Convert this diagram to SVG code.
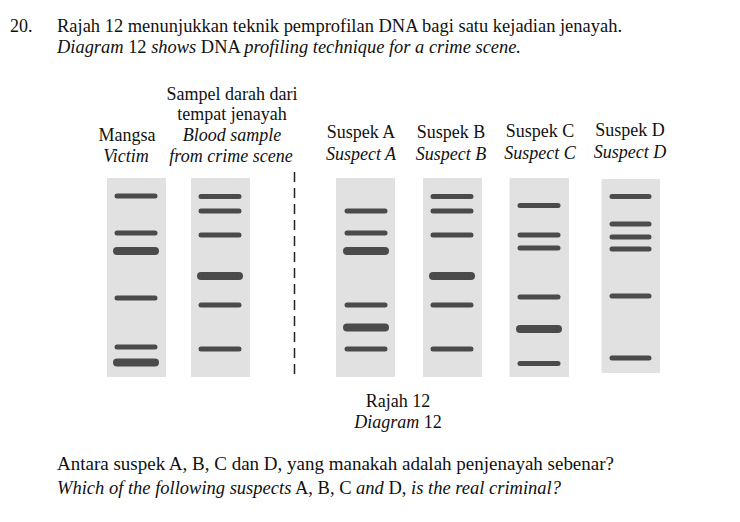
<svg xmlns="http://www.w3.org/2000/svg" width="740" height="522" viewBox="0 0 740 522">
<style>
text{font-family:"Liberation Serif","Times New Roman",serif;fill:#111;}
.t{font-size:18px;}
.h{font-size:18px;text-anchor:middle;}
.i{font-style:italic;}
.lane{fill:#e1e1e1;}
.b{stroke:#4b4b4b;stroke-width:5;stroke-linecap:round;}
.k{stroke:#4b4b4b;stroke-width:8;stroke-linecap:round;}
</style>
<rect width="740" height="522" fill="#fff"/>
<g id="question-top">
<text class="t" x="10" y="32">20.</text>
<text class="t" x="57" y="32" textLength="565" lengthAdjust="spacingAndGlyphs">Rajah 12 menunjukkan teknik pemprofilan DNA bagi satu kejadian jenayah.</text>
<text class="t" x="57" y="53" textLength="464" lengthAdjust="spacingAndGlyphs"><tspan class="i">Diagram</tspan> 12 <tspan class="i">shows</tspan> DNA <tspan class="i">profiling technique for a crime scene.</tspan></text>
</g>
<g id="labels">
<text class="h" x="232" y="100">Sampel darah dari</text>
<text class="h" x="232" y="120">tempat jenayah</text>
<text class="h i" x="232" y="141">Blood sample</text>
<text class="h i" x="231" y="162">from crime scene</text>
<text class="h" x="127" y="141">Mangsa</text>
<text class="h i" x="126" y="162">Victim</text>
<text class="h" x="361" y="138">Suspek A</text>
<text class="h i" x="361" y="160">Suspect A</text>
<text class="h" x="451" y="138">Suspek B</text>
<text class="h i" x="451" y="160">Suspect B</text>
<text class="h" x="540" y="137">Suspek C</text>
<text class="h i" x="540" y="159">Suspect C</text>
<text class="h" x="630" y="136">Suspek D</text>
<text class="h i" x="630" y="158">Suspect D</text>
</g>
<g id="lane-victim">
<rect class="lane" x="107" y="178" width="59" height="199"/>
<line class="b" x1="117" y1="196" x2="155" y2="196"/>
<line class="b" x1="117" y1="233" x2="155" y2="233"/>
<line class="k" x1="117" y1="251" x2="155" y2="251"/>
<line class="b" x1="117" y1="298" x2="155" y2="298"/>
<line class="b" x1="117" y1="347" x2="155" y2="347"/>
<line class="k" x1="117" y1="362.5" x2="155" y2="362.5"/>
</g>
<g id="lane-blood">
<rect class="lane" x="191" y="178" width="59" height="199"/>
<line class="b" x1="201" y1="196.5" x2="239" y2="196.5"/>
<line class="b" x1="201" y1="211" x2="239" y2="211"/>
<line class="b" x1="201" y1="235" x2="239" y2="235"/>
<line class="k" x1="201" y1="276" x2="239" y2="276"/>
<line class="b" x1="201" y1="305" x2="239" y2="305"/>
<line class="b" x1="201" y1="349" x2="239" y2="349"/>
</g>
<g id="connectors">
<line x1="294.5" y1="172" x2="294.5" y2="378" stroke="#222" stroke-width="1.5" stroke-dasharray="10 6"/>
</g>
<g id="lane-a">
<rect class="lane" x="336" y="178" width="59" height="199"/>
<line class="b" x1="347" y1="211" x2="385" y2="211"/>
<line class="b" x1="347" y1="233" x2="385" y2="233"/>
<line class="k" x1="347" y1="251" x2="385" y2="251"/>
<line class="b" x1="347" y1="305" x2="385" y2="305"/>
<line class="k" x1="347" y1="327.5" x2="385" y2="327.5"/>
<line class="b" x1="347" y1="349" x2="385" y2="349"/>
</g>
<g id="lane-b">
<rect class="lane" x="423" y="178" width="59" height="199"/>
<line class="b" x1="433" y1="196.5" x2="471" y2="196.5"/>
<line class="b" x1="433" y1="211" x2="471" y2="211"/>
<line class="b" x1="433" y1="235" x2="471" y2="235"/>
<line class="k" x1="433" y1="276" x2="471" y2="276"/>
<line class="b" x1="433" y1="305" x2="471" y2="305"/>
<line class="b" x1="433" y1="349" x2="471" y2="349"/>
</g>
<g id="lane-c">
<rect class="lane" x="509.5" y="178" width="59.5" height="199"/>
<line class="b" x1="520" y1="205.5" x2="558" y2="205.5"/>
<line class="b" x1="520" y1="235" x2="558" y2="235"/>
<line class="b" x1="520" y1="248" x2="558" y2="248"/>
<line class="b" x1="520" y1="297" x2="558" y2="297"/>
<line class="k" x1="520" y1="329" x2="558" y2="329"/>
<line class="b" x1="520" y1="363.5" x2="558" y2="363.5"/>
</g>
<g id="lane-d">
<rect class="lane" x="601.5" y="179" width="58.5" height="194"/>
<line class="b" x1="612" y1="196.5" x2="649" y2="196.5"/>
<line class="b" x1="612" y1="224" x2="649" y2="224"/>
<line class="b" x1="612" y1="237" x2="649" y2="237"/>
<line class="b" x1="612" y1="249" x2="649" y2="249"/>
<line class="b" x1="612" y1="296" x2="649" y2="296"/>
<line class="b" x1="612" y1="358" x2="649" y2="358"/>
</g>
<g id="caption">
<text class="h" x="398" y="407">Rajah 12</text>
<text class="h" x="398" y="428"><tspan class="i">Diagram</tspan> 12</text>
</g>
<g id="question-bottom">
<text class="t" x="57" y="470" textLength="557" lengthAdjust="spacingAndGlyphs">Antara suspek A, B, C dan D, yang manakah adalah penjenayah sebenar?</text>
<text class="t" x="57" y="494" textLength="504" lengthAdjust="spacingAndGlyphs"><tspan class="i">Which of the following suspects</tspan> A, B, C <tspan class="i">and</tspan> D, <tspan class="i">is the real criminal?</tspan></text>
</g>
</svg>
